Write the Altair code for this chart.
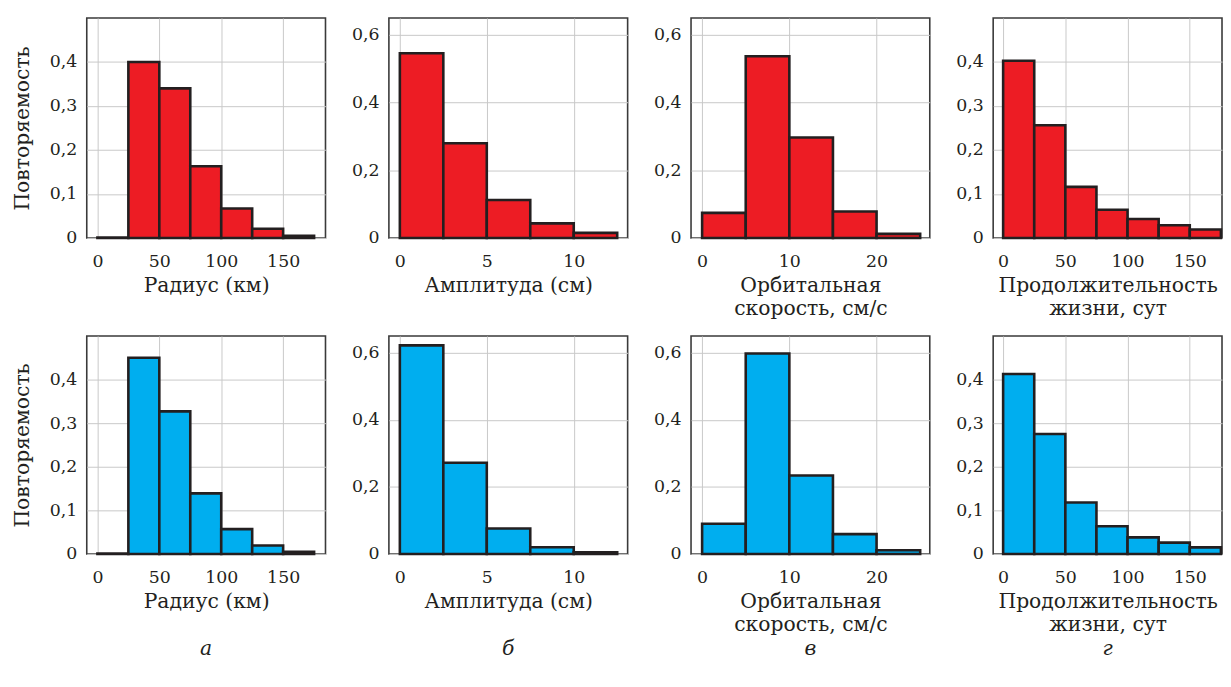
import altair as alt
import pandas as pd

# ---------------- data ----------------
radius_edges = [0, 25, 50, 75, 100, 125, 150, 175]
radius_top = [0.001, 0.400, 0.340, 0.163, 0.067, 0.021, 0.005]
radius_bot = [0.001, 0.450, 0.327, 0.139, 0.057, 0.0195, 0.005]

amp_edges = [0, 2.5, 5, 7.5, 10, 12.5]
amp_top = [0.546, 0.280, 0.112, 0.043, 0.015]
amp_bot = [0.622, 0.272, 0.076, 0.020, 0.005]

speed_edges = [0, 5, 10, 15, 20, 25]
speed_top = [0.074, 0.537, 0.297, 0.078, 0.012]
speed_bot = [0.090, 0.598, 0.234, 0.059, 0.011]

life_edges = [0, 25, 50, 75, 100, 125, 150, 175]
life_top = [0.403, 0.256, 0.116, 0.064, 0.043, 0.029, 0.019]
life_bot = [0.413, 0.275, 0.118, 0.0635, 0.038, 0.026, 0.015]

radius_ticks = [0, 50, 100, 150]
amp_ticks = [0, 5, 10]
speed_ticks = [0, 10, 20]
life_ticks = [0, 50, 100, 150]

y_ticks_small = [0, 0.1, 0.2, 0.3, 0.4]
y_ticks_big = [0, 0.2, 0.4, 0.6]

x_titles = ["Радиус (км)", "Амплитуда (см)", ["Орбитальная", "скорость, см/с"],
            ["Продолжительность", "жизни, сут"]]
y_title = "Повторяемость"
letters = ["а", "б", "в", "г"]

RED = "#ED1C24"
BLUE = "#00AEEF"
INK = "#231f20"
GRID = "#c8c8c8"
FONT = "DejaVu Serif"
LAB = 17.5
TIT = 20.5

Y_LABEL = "datum.value == 0 ? '0' : replace(format(datum.value, '.1f'), '.', ',')"


def panel(edges, vals, color, xdom, xticks, ydom, yticks, xtitle, ytitle,
          width, height, letter=None):
    df = pd.DataFrame({"x0": edges[:-1], "x1": edges[1:], "p": vals,
                       "z": [0] * len(vals)})
    xaxis = alt.Axis(values=xticks, title=xtitle, grid=True, gridColor=GRID,
                     gridWidth=1, ticks=False, domain=False, labelFontSize=LAB,
                     labelPadding=15, labelFlush=False, labelOverlap=False,
                     labelColor=INK, titleColor=INK, titleFontSize=TIT,
                     titleFontWeight="normal", titlePadding=5,
                     titleLineHeight=23.5, labelFont=FONT, titleFont=FONT,
                     minExtent=33, maxExtent=33)
    yargs = dict(values=yticks, grid=True, gridColor=GRID, gridWidth=1,
                 ticks=False, domain=False, labelFontSize=LAB, labelPadding=10,
                 labelExpr=Y_LABEL, labelColor=INK, labelFont=FONT,
                 labelOverlap=False, minExtent=38, maxExtent=38)
    if ytitle:
        yaxis = alt.Axis(title=ytitle, titleFontSize=TIT, titleFontWeight="normal",
                         titleColor=INK, titlePadding=17, titleFont=FONT, **yargs)
    else:
        yaxis = alt.Axis(title=None, **yargs)
    bars = alt.Chart(df).mark_rect(fill=color, stroke=INK, strokeWidth=2.6).encode(
        x=alt.X("x0:Q", scale=alt.Scale(domain=xdom, nice=False, zero=False),
                axis=xaxis),
        x2="x1:Q",
        y=alt.Y("p:Q", scale=alt.Scale(domain=ydom, nice=False, zero=True),
                axis=yaxis),
        y2="z:Q",
    )
    layers = [bars]
    if letter:
        tdf = pd.DataFrame({"t": [letter]})
        txt = alt.Chart(tdf).mark_text(font=FONT, fontSize=TIT, fontStyle="italic",
                                       color=INK, baseline="middle").encode(
            x=alt.value(width / 2), y=alt.value(height + 96), text="t:N")
        layers.append(txt)
    return alt.layer(*layers).properties(width=width, height=height)


H_TOP = 222
H_BOT = 220
W = 241
W_D = 231

dom_r = [-8.6, 184.2]
dom_a = [-0.63, 13.1]
dom_s = [-1.27, 26.1]
dom_l = [-8.0, 175.9]

top = alt.hconcat(
    panel(radius_edges, radius_top, RED, dom_r, radius_ticks, [0, 0.5], y_ticks_small,
          x_titles[0], y_title, W, H_TOP),
    panel(amp_edges, amp_top, RED, dom_a, amp_ticks, [0, 0.65], y_ticks_big,
          x_titles[1], None, W, H_TOP),
    panel(speed_edges, speed_top, RED, dom_s, speed_ticks, [0, 0.65], y_ticks_big,
          x_titles[2], None, W, H_TOP),
    panel(life_edges, life_top, RED, dom_l, life_ticks, [0, 0.5], y_ticks_small,
          x_titles[3], None, W_D, H_TOP),
    spacing=24,
)
bot = alt.hconcat(
    panel(radius_edges, radius_bot, BLUE, dom_r, radius_ticks, [0, 0.5], y_ticks_small,
          x_titles[0], y_title, W, H_BOT, letters[0]),
    panel(amp_edges, amp_bot, BLUE, dom_a, amp_ticks, [0, 0.65], y_ticks_big,
          x_titles[1], None, W, H_BOT, letters[1]),
    panel(speed_edges, speed_bot, BLUE, dom_s, speed_ticks, [0, 0.65], y_ticks_big,
          x_titles[2], None, W, H_BOT, letters[2]),
    panel(life_edges, life_bot, BLUE, dom_l, life_ticks, [0, 0.5], y_ticks_small,
          x_titles[3], None, W_D, H_BOT, letters[3]),
    spacing=24,
)

chart = alt.vconcat(top, bot, spacing=15).properties(
    padding={"left": 3.5, "top": 6, "right": 0, "bottom": 0},
    background="white",
).configure_view(stroke="#3a3a3a", strokeWidth=1.6)

chart.save("out.html", embed_options={"renderer": "svg", "actions": False})
